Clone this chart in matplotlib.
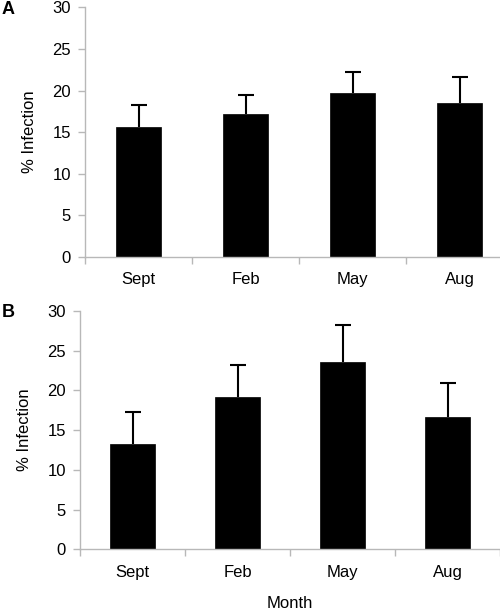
import numpy as np
import matplotlib.pyplot as plt

plt.rcParams['font.family'] = ['Liberation Sans', 'DejaVu Sans']

months = ['Sept', 'Feb', 'May', 'Aug']

# panel A
infection_a = [15.6, 17.2, 19.75, 18.5]
err_a = [2.6, 2.3, 2.45, 3.1]

# panel B
infection_b = [13.3, 19.2, 23.6, 16.6]
err_b = [3.95, 4.0, 4.7, 4.3]

yticks = [0, 5, 10, 15, 20, 25, 30]

fig = plt.figure(figsize=(5.0, 6.11), dpi=100)
axA = fig.add_axes([0.17, 0.5794, 0.856, 0.4087])
axB = fig.add_axes([0.16, 0.101, 0.84, 0.39])

grey = '#b8b8b8'
fs = 12


def draw(ax, vals, errs):
    x = np.arange(len(months))
    ax.bar(x, vals, width=0.42, color='black', edgecolor='black', linewidth=0.5, zorder=2)
    eb = ax.errorbar(x, vals, yerr=[np.zeros(len(errs)), errs], fmt='none',
                     ecolor='black', elinewidth=1.5, capsize=6, capthick=1.5, zorder=1)
    eb[1][0].set_visible(False)  # no lower cap
    ax.set_xlim(-0.5, len(months) - 0.5)
    ax.set_ylim(0, 30)
    ax.set_yticks(yticks)
    ax.set_xticks(np.arange(len(months) + 1) - 0.5)
    ax.set_xticklabels([])
    ax.set_xticks(x, minor=True)
    ax.set_xticklabels(months, minor=True)
    ax.tick_params(axis='x', which='minor', length=0, pad=11, labelsize=fs)
    ax.tick_params(axis='x', which='major', length=5, color=grey, width=1)
    ax.tick_params(axis='y', length=5, color=grey, width=1, pad=5, labelsize=fs)
    for s in ['top', 'right']:
        ax.spines[s].set_visible(False)
    for s in ['left', 'bottom']:
        ax.spines[s].set_color(grey)
        ax.spines[s].set_linewidth(1)
    ax.set_ylabel('% Infection', fontsize=fs, labelpad=11)


draw(axA, infection_a, err_a)
draw(axB, infection_b, err_b)

axB.set_xlabel('Month', fontsize=fs, labelpad=12)

fig.text(0.003, 0.984, 'A', fontsize=13, fontweight='bold', va='center', ha='left')
fig.text(0.003, 0.489, 'B', fontsize=13, fontweight='bold', va='center', ha='left')

fig.savefig('out.png', dpi=100)
